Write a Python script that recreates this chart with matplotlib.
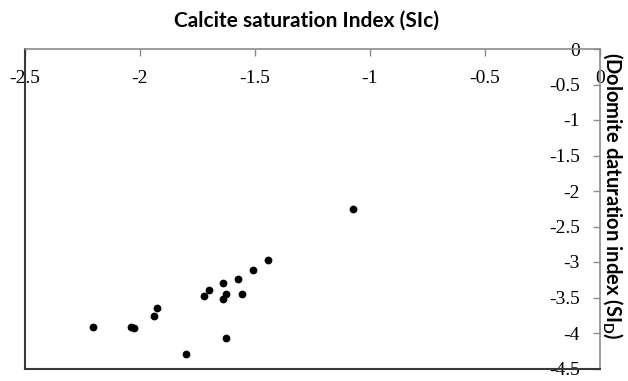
import matplotlib
matplotlib.use("Agg")
import matplotlib.pyplot as plt

# Saturation indices of the water samples
si_calcite = [-2.203, -2.040, -2.028, -1.927, -1.938, -1.801,
              -1.721, -1.701, -1.641, -1.638, -1.624, -1.626,
              -1.556, -1.574, -1.507, -1.442, -1.075]
si_dolomite = [-3.920, -3.920, -3.935, -3.644, -3.757, -4.290,
               -3.474, -3.399, -3.300, -3.521, -3.455, -4.066,
               -3.447, -3.239, -3.110, -2.968, -2.254]

x_ticks = [-2.5, -2, -1.5, -1, -0.5, 0]
x_tick_labels = ["-2.5", "-2", "-1.5", "-1", "-0.5", "0"]
y_ticks = [0, -0.5, -1, -1.5, -2, -2.5, -3, -3.5, -4, -4.5]
y_tick_labels = ["0", "-0.5", "-1", "-1.5", "-2", "-2.5", "-3", "-3.5", "-4", "-4.5"]

W, H = 628, 381
fig = plt.figure(figsize=(W / 100, H / 100), dpi=100)
ax = fig.add_axes([25 / W, 1 - 368.5 / H, 575 / W, 319.5 / H])

ax.plot(si_calcite, si_dolomite, linestyle="none", marker="o",
        markersize=5.6, color="black", markeredgewidth=0)

ax.set_xlim(-2.5, 0)
ax.set_ylim(-4.5, 0)

# x axis runs along the top, y axis along the right
ax.set_xticks(x_ticks)
ax.set_xticklabels(x_tick_labels)
ax.set_yticks(y_ticks)
ax.set_yticklabels(y_tick_labels)

tick_font = dict(family="Liberation Serif", size=14)
ax.tick_params(axis="x", which="both", bottom=False, top=True,
               labelbottom=False, labeltop=True, direction="in",
               length=5, width=1, color="#8c8c8c", pad=-15)
ax.tick_params(axis="y", which="both", left=False, right=True,
               labelleft=False, labelright=True, direction="in",
               length=5, width=1, color="#8c8c8c", pad=-14.5)

for lbl in ax.get_xticklabels():
    lbl.set_fontfamily(tick_font["family"])
    lbl.set_fontsize(tick_font["size"])
    lbl.set_verticalalignment("top")
for lbl in ax.get_yticklabels():
    lbl.set_fontfamily(tick_font["family"])
    lbl.set_fontsize(tick_font["size"])
    lbl.set_horizontalalignment("right")

for side in ("top", "right"):
    ax.spines[side].set_color("#8c8c8c")
    ax.spines[side].set_linewidth(1.2)
for side in ("left", "bottom"):
    ax.spines[side].set_color("#3a3a3a")
    ax.spines[side].set_linewidth(1.5)

fig.text(306 / W, 1 - 27 / H, "Calcite saturation Index (SIc)",
         ha="center", va="baseline", fontsize=15, fontweight="bold",
         family="Lato")
fig.text(613 / W, 1 - 196 / H, r"(Dolomite daturation index (SI$_\mathregular{D}$)",
         ha="center", va="center", rotation=-90, fontsize=14.5,
         fontweight="bold", family="Lato")

fig.savefig("out.png", dpi=100)
